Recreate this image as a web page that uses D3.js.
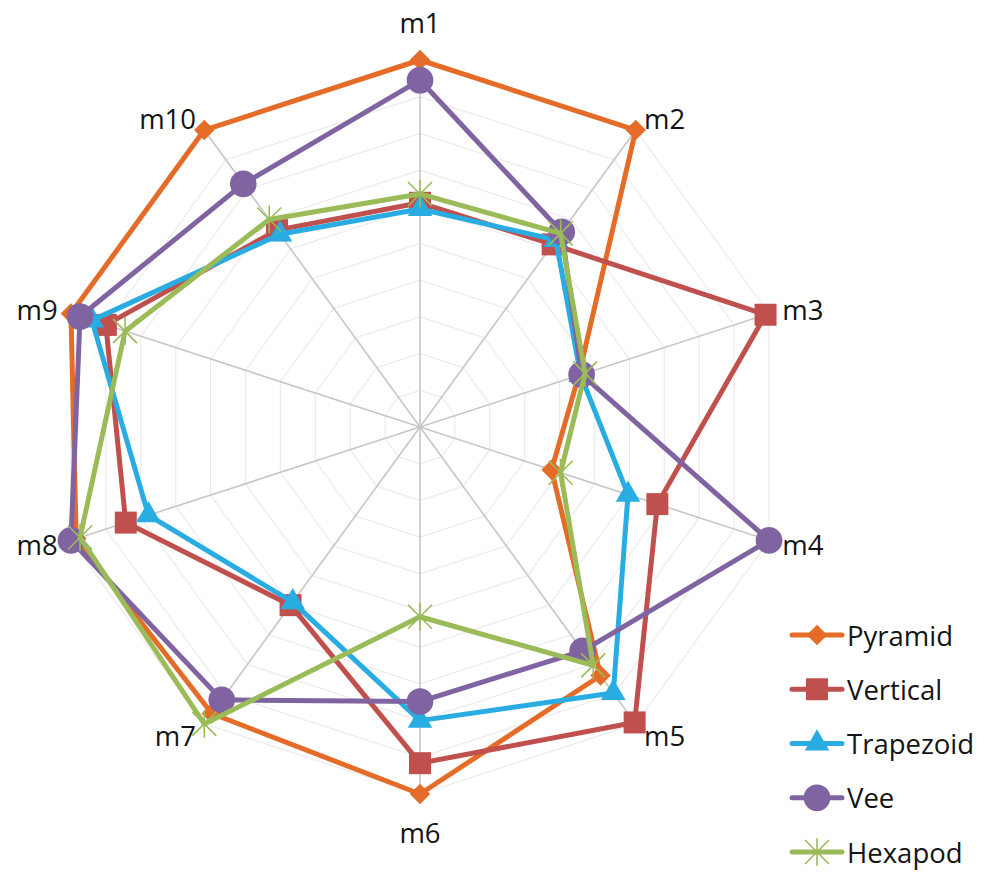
<!DOCTYPE html>
<html>
<head>
<meta charset="utf-8">
<script src="https://cdn.jsdelivr.net/npm/d3@7"></script>
<style>
  html, body { margin: 0; padding: 0; background: #ffffff; }
  svg { display: block; font-family: "Open Sans", "Noto Sans", sans-serif; }
</style>
</head>
<body>
<svg id="chart" width="985" height="873"></svg>
<script>
// Measures around the radar
const axes = ["m1", "m2", "m3", "m4", "m5", "m6", "m7", "m8", "m9", "m10"];

// Normalised score of each gait on each measure (0 = centre, 1 = outer ring)
const pyramid   = [1.00, 1.00, 0.455, 0.377, 0.837, 1.00, 0.965, 0.985, 1.00, 1.00];
const vertical  = [0.611, 0.615, 0.99, 0.68, 0.995, 0.916, 0.60, 0.843, 0.90, 0.663];
const trapezoid = [0.594, 0.63, 0.46, 0.596, 0.896, 0.80, 0.59, 0.778, 0.94, 0.649];
const vee       = [0.945, 0.657, 0.463, 1.00, 0.754, 0.748, 0.919, 1.00, 0.974, 0.819];
const hexapod   = [0.635, 0.652, 0.473, 0.403, 0.803, 0.517, 1.00, 0.974, 0.845, 0.699];

const seriesNames = ["Pyramid", "Vertical", "Trapezoid", "Vee", "Hexapod"];
const gridSteps = [0.1, 0.2, 0.3, 0.4, 0.5, 0.6, 0.7, 0.8, 0.9, 1.0];

const series = [
  { name: seriesNames[0], values: pyramid,   color: "#e46c28", marker: "diamond" },
  { name: seriesNames[1], values: vertical,  color: "#c0504d", marker: "square" },
  { name: seriesNames[2], values: trapezoid, color: "#29ace2", marker: "triangle" },
  { name: seriesNames[3], values: vee,       color: "#8064a2", marker: "circle" },
  { name: seriesNames[4], values: hexapod,   color: "#9bbb59", marker: "star" }
];

const svg = d3.select("#chart");
const cx = 420, cy = 427, R = 367;

const r = d3.scaleLinear().domain([0, 1]).range([0, R]);
const angle = d3.scaleLinear().domain([0, axes.length]).range([0, 2 * Math.PI]);

const pt = (i, v) => {
  const a = angle(i);
  return [cx + r(v) * Math.sin(a), cy - r(v) * Math.cos(a)];
};

const g = svg.append("g");

// concentric rings
const ringLine = d3.line();
g.append("g").selectAll("path")
  .data(gridSteps)
  .join("path")
  .attr("d", s => ringLine(axes.map((_, i) => pt(i, s))) + "Z")
  .attr("fill", "none")
  .attr("stroke", "#ebebeb")
  .attr("stroke-width", 1.2);

// spokes
g.append("g").selectAll("line")
  .data(axes)
  .join("line")
  .attr("x1", cx).attr("y1", cy)
  .attr("x2", (d, i) => pt(i, 1)[0])
  .attr("y2", (d, i) => pt(i, 1)[1])
  .attr("stroke", "#c6c6c6")
  .attr("stroke-width", 1.6);

// axis labels
g.append("g").selectAll("text")
  .data(axes)
  .join("text")
  .each(function (d, i) {
    const a = angle(i);
    const s = Math.sin(a), c = Math.cos(a);
    const [x, y] = pt(i, (R + 14) / R);
    let anchor = "middle", dy = 0;
    if (s > 0.1) anchor = "start";
    else if (s < -0.1) anchor = "end";
    if (Math.abs(s) < 0.1) dy = c > 0 ? -24 : 24;
    d3.select(this)
      .attr("x", x)
      .attr("y", y + dy)
      .attr("text-anchor", anchor)
      .attr("dominant-baseline", "central")
      .text(d);
  })
  .attr("font-size", 27.5)
  .attr("fill", "#141414");

// marker shapes
function drawMarker(sel, type, color) {
  if (type === "diamond") {
    sel.append("path")
      .attr("d", d3.symbol(d3.symbolSquare, 210)())
      .attr("transform", "rotate(45)")
      .attr("fill", color);
  } else if (type === "square") {
    sel.append("path")
      .attr("d", d3.symbol(d3.symbolSquare, 484)())
      .attr("fill", color);
  } else if (type === "triangle") {
    sel.append("path")
      .attr("d", d3.symbol(d3.symbolTriangle, 260)())
      .attr("fill", color);
  } else if (type === "circle") {
    sel.append("path")
      .attr("d", d3.symbol(d3.symbolCircle, 560)())
      .attr("fill", color);
  } else if (type === "star") {
    const h = 12;
    const p = d3.path();
    p.moveTo(-h, -h); p.lineTo(h, h);
    p.moveTo(h, -h); p.lineTo(-h, h);
    p.moveTo(0, -h * 1.15); p.lineTo(0, h * 1.15);
    sel.append("path")
      .attr("d", p.toString())
      .attr("fill", "none")
      .attr("stroke", color)
      .attr("stroke-width", 1.6);
  }
}

const radial = d3.lineRadial()
  .angle((d, i) => angle(i))
  .radius(d => r(d))
  .curve(d3.curveLinearClosed);

series.forEach(s => {
  const sg = g.append("g");
  sg.append("path")
    .attr("transform", `translate(${cx},${cy})`)
    .attr("d", radial(s.values))
    .attr("fill", "none")
    .attr("stroke", s.color)
    .attr("stroke-width", 5)
    .attr("stroke-linejoin", "round");
  sg.selectAll("g.mk")
    .data(s.values)
    .join("g")
    .attr("class", "mk")
    .attr("transform", (v, i) => `translate(${pt(i, v)[0]},${pt(i, v)[1]})`)
    .each(function () { drawMarker(d3.select(this), s.marker, s.color); });
});

// legend
const legendY = d3.scalePoint().domain(seriesNames).range([635, 852]);
const lg = svg.append("g");
series.forEach(s => {
  const y = legendY(s.name);
  lg.append("line")
    .attr("x1", 792).attr("x2", 842)
    .attr("y1", y).attr("y2", y)
    .attr("stroke", s.color)
    .attr("stroke-width", 5)
    .attr("stroke-linecap", "round");
  drawMarker(lg.append("g").attr("transform", `translate(817,${y})`), s.marker, s.color);
  lg.append("text")
    .attr("x", 847)
    .attr("y", y)
    .attr("dominant-baseline", "central")
    .attr("font-size", 27.5)
    .attr("fill", "#141414")
    .text(s.name);
});
</script>
</body>
</html>
